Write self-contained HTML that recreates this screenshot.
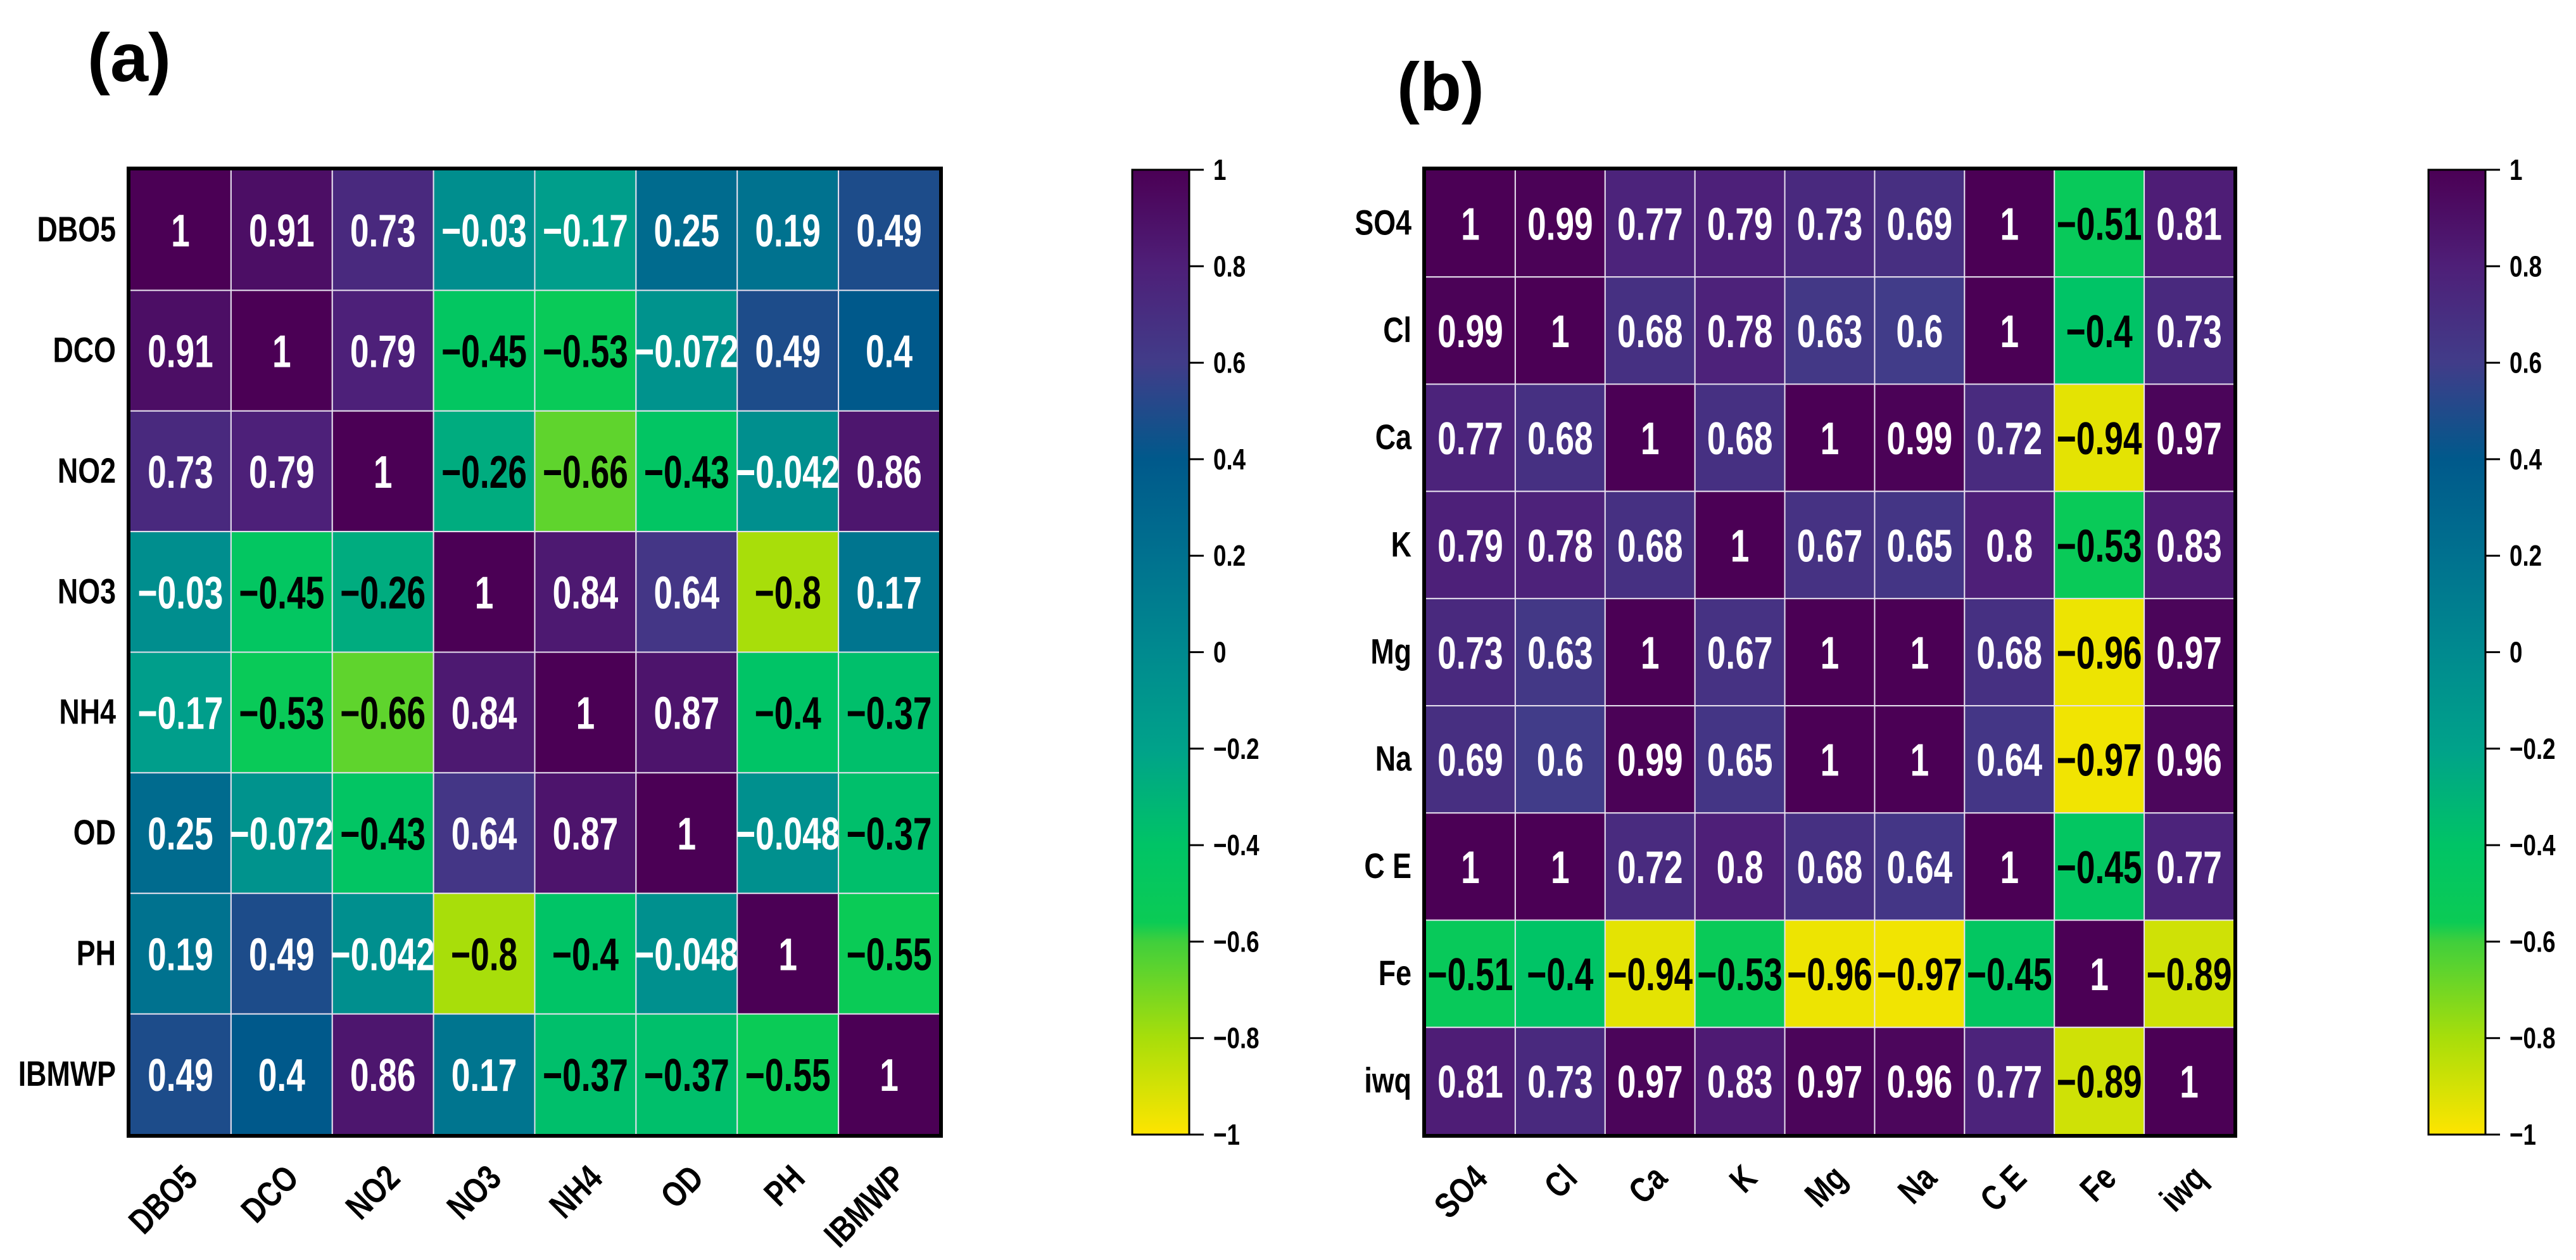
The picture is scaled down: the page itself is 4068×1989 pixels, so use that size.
<!DOCTYPE html>
<html><head><meta charset="utf-8">
<style>
html,body{margin:0;padding:0;background:#fff;}
svg{display:block;}
text{font-family:"Liberation Sans",sans-serif;font-weight:bold;}
</style></head>
<body>
<svg id="fig" width="4068" height="1989" viewBox="0 0 4068 1989" xmlns="http://www.w3.org/2000/svg">
<defs>
<linearGradient id="cbgrad" x1="0" y1="0" x2="0" y2="1">
<stop offset="0" stop-color="#4B0055"/>
<stop offset="0.1" stop-color="#4E1F78"/>
<stop offset="0.2" stop-color="#413C89"/>
<stop offset="0.3" stop-color="#00598B"/>
<stop offset="0.4" stop-color="#00718F"/>
<stop offset="0.5" stop-color="#008A8F"/>
<stop offset="0.6" stop-color="#00A28A"/>
<stop offset="0.7" stop-color="#00C466"/>
<stop offset="0.78" stop-color="#0BCB55"/>
<stop offset="0.8" stop-color="#40CF3C"/>
<stop offset="0.9" stop-color="#A8DE0A"/>
<stop offset="1" stop-color="#FEE500"/>
</linearGradient>
</defs>
<g id="panelA"></g>
<g id="panelB"></g>
</svg>
<script>
const labelsA = ["DBO5","DCO","NO2","NO3","NH4","OD","PH","IBMWP"];
const valuesA = [
 [1,0.91,0.73,-0.03,-0.17,0.25,0.19,0.49],
 [0.91,1,0.79,-0.45,-0.53,-0.072,0.49,0.4],
 [0.73,0.79,1,-0.26,-0.66,-0.43,-0.042,0.86],
 [-0.03,-0.45,-0.26,1,0.84,0.64,-0.8,0.17],
 [-0.17,-0.53,-0.66,0.84,1,0.87,-0.4,-0.37],
 [0.25,-0.072,-0.43,0.64,0.87,1,-0.048,-0.37],
 [0.19,0.49,-0.042,-0.8,-0.4,-0.048,1,-0.55],
 [0.49,0.4,0.86,0.17,-0.37,-0.37,-0.55,1]
];
const labelsB = ["SO4","Cl","Ca","K","Mg","Na","C E","Fe","iwq"];
const valuesB = [
 [1,0.99,0.77,0.79,0.73,0.69,1,-0.51,0.81],
 [0.99,1,0.68,0.78,0.63,0.6,1,-0.4,0.73],
 [0.77,0.68,1,0.68,1,0.99,0.72,-0.94,0.97],
 [0.79,0.78,0.68,1,0.67,0.65,0.8,-0.53,0.83],
 [0.73,0.63,1,0.67,1,1,0.68,-0.96,0.97],
 [0.69,0.6,0.99,0.65,1,1,0.64,-0.97,0.96],
 [1,1,0.72,0.8,0.68,0.64,1,-0.45,0.77],
 [-0.51,-0.4,-0.94,-0.53,-0.96,-0.97,-0.45,1,-0.89],
 [0.81,0.73,0.97,0.83,0.97,0.96,0.77,-0.89,1]
];
const cbTicks = [1,0.8,0.6,0.4,0.2,0,-0.2,-0.4,-0.6,-0.8,-1];

const stops = [
 [1,[75,0,85]],[0.8,[78,31,120]],[0.6,[65,60,137]],[0.4,[0,89,139]],
 [0.2,[0,113,143]],[0,[0,138,143]],[-0.2,[0,162,138]],[-0.4,[0,196,102]],
 [-0.56,[11,203,85]],[-0.6,[64,207,60]],[-0.8,[168,222,10]],[-1,[254,229,0]]
];
function colorOf(v){
  for(let i=0;i<stops.length-1;i++){
    const a=stops[i],b=stops[i+1];
    if(v<=a[0]&&v>=b[0]){
      const t=(a[0]-v)/(a[0]-b[0]);
      const c=a[1].map((x,k)=>Math.round(x+(b[1][k]-x)*t));
      return "rgb("+c.join(",")+")";
    }
  }
  return v>0?"rgb(75,0,85)":"rgb(254,229,0)";
}
function fmt(v){return (v<0?"\u2212":"")+String(Math.abs(v));}
const NS="http://www.w3.org/2000/svg";
function mk(tag,attrs,parent){
  const e=document.createElementNS(NS,tag);
  for(const k in attrs)e.setAttribute(k,attrs[k]);
  parent.appendChild(e);return e;
}
function drawPanel(g,labels,values,geo,title,titlePos){
  const n=labels.length;
  const cw=(geo.x1-geo.x0)/n, ch=(geo.y1-geo.y0)/n;
  const xs=i=>geo.x0+i*cw, ys=j=>geo.y0+j*ch;
  const t=mk("text",{x:titlePos[0],y:titlePos[1],"font-size":108,"text-anchor":"start"},g);
  t.textContent=title;
  
  
  for(let r=0;r<n;r++){
    for(let c=0;c<n;c++){
      const v=values[r][c];
      const rect=mk("rect",{x:xs(c),y:ys(r),width:cw,height:ch,fill:colorOf(v),stroke:"#e6e0ee","stroke-width":2},g);
      
      
      const tx=mk("text",{x:0,y:0,"font-size":72,"text-anchor":"middle",fill:(v>-0.2?"#fff":"#000"),
        transform:"translate("+(xs(c)+cw/2)+","+(ys(r)+ch/2+26)+") scale(0.74,1)"},g);
      tx.textContent=fmt(v);
      
      
    }
    const rl=mk("text",{x:0,y:0,"font-size":56,"text-anchor":"end",fill:"#000",
      transform:"translate("+(geo.x0-22)+","+(ys(r)+ch/2+18)+") scale(0.8,1)"},g);
    rl.textContent=labels[r];
    
    
    const cx=xs(r)+cw/2+30, cy=geo.y1+72;
    const xl=mk("text",{x:0,y:0,"font-size":56,"text-anchor":"end",fill:"#000",
      transform:"translate("+cx+","+cy+") rotate(-45) scale(0.8,1)"},g);
    xl.textContent=labels[r];
    
    
  }
  const border=mk("rect",{x:geo.x0-2,y:geo.y0-2,width:geo.x1-geo.x0+4,height:geo.y1-geo.y0+4,fill:"none",stroke:"#000","stroke-width":6},g);
  
  
  const cb=mk("rect",{x:geo.cbx,y:geo.y0,width:geo.cbw,height:geo.y1-geo.y0,fill:"url(#cbgrad)",stroke:"#000","stroke-width":3},g);
  
  
  const cy=v=>geo.y0+(1-v)/2*(geo.y1-geo.y0);
  cbTicks.forEach(v=>{
    const ln=mk("line",{x1:geo.cbx+geo.cbw,x2:geo.cbx+geo.cbw+23,y1:cy(v),y2:cy(v),stroke:"#000","stroke-width":3},g);
    
    
    const tl=mk("text",{x:0,y:0,"font-size":46,fill:"#000","text-anchor":"start",
      transform:"translate("+(geo.cbx+geo.cbw+38)+","+(cy(v)+16)+") scale(0.8,1)"},g);
    tl.textContent=fmt(v);
    
    
  });
}
drawPanel(document.getElementById("panelA"),labelsA,valuesA,
  {x0:205,x1:1484,y0:268,y1:1791,cbx:1788,cbw:90},"(a)",[138,128]);
drawPanel(document.getElementById("panelB"),labelsB,valuesB,
  {x0:2251,x1:3528,y0:268,y1:1791,cbx:3835,cbw:90},"(b)",[2206,174]);
</script>
</body></html>
